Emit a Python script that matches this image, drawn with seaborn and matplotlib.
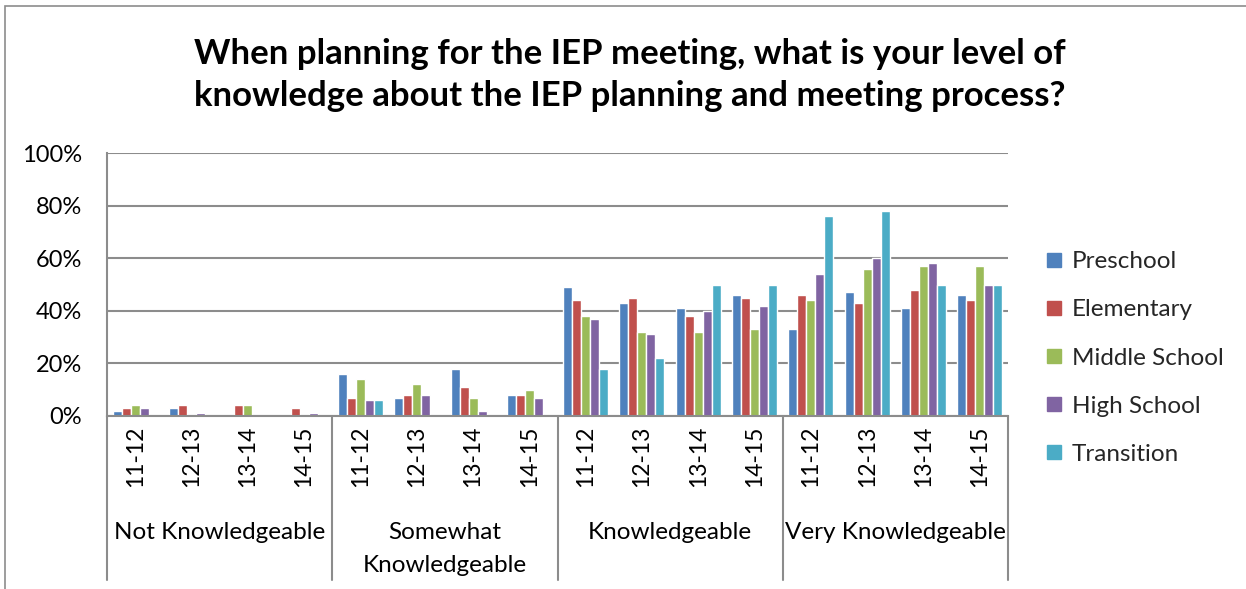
import numpy as np
import pandas as pd
import seaborn as sns
import matplotlib
matplotlib.use("Agg")
import matplotlib.pyplot as plt
from matplotlib.lines import Line2D
from matplotlib.patches import Rectangle
import matplotlib.transforms as mtransforms

# ---- data ----
levels = ["Not Knowledgeable", "Somewhat\nKnowledgeable", "Knowledgeable", "Very Knowledgeable"]
years = ["11-12", "12-13", "13-14", "14-15"]
series = ["Preschool", "Elementary", "Middle School", "High School", "Transition"]
preschool = [2, 3, 0, 0, 16, 7, 18, 8, 49, 43, 41, 46, 33, 47, 41, 46]
elementary = [3, 4, 4, 3, 7, 8, 11, 8, 44, 45, 38, 45, 46, 43, 48, 44]
middle_school = [4, 0, 4, 0, 14, 12, 7, 10, 38, 32, 32, 33, 44, 56, 57, 57]
high_school = [3, 1, 0, 1, 6, 8, 2, 7, 37, 31, 40, 42, 54, 60, 58, 50]
transition = [0, 0, 0, 0, 6, 0, 0, 0, 18, 22, 50, 50, 76, 78, 50, 50]
yticks = [0, 20, 40, 60, 80, 100]
title = "When planning for the IEP meeting, what is your level of\nknowledge about the IEP planning and meeting process?"

colors = ["#4F81BD", "#C0504D", "#9BBB59", "#8064A2", "#4BACC6"]
FONT = ["Lato", "DejaVu Sans"]

sns.set_theme(style="white")
plt.rcParams["font.family"] = FONT

slots = [f"{lv}|{yr}" for lv in levels for yr in years]
values = [preschool, elementary, middle_school, high_school, transition]
rows = []
for s, vals in zip(series, values):
    for slot, v in zip(slots, vals):
        rows.append({"slot": slot, "series": s, "value": v})
df = pd.DataFrame(rows)

W, H = 1246, 589
fig = plt.figure(figsize=(W / 100, H / 100), dpi=100)
ax = fig.add_axes([107 / W, 1 - 416 / H, (1008 - 107) / W, (416 - 153) / H])

sns.barplot(data=df, x="slot", y="value", hue="series", order=slots,
            hue_order=series, palette=colors, saturation=1, width=0.8,
            ax=ax, legend=False)

ax.set_xlim(-0.5, len(slots) - 0.5)
ax.set_ylim(0, 100)
ax.set_yticks(yticks)
ax.set_yticklabels([f"{t}%" for t in yticks], fontsize=17, color="black")
ax.tick_params(axis="y", length=0, pad=18)
ax.set_xticks([])
ax.set_xlabel("")
ax.set_ylabel("")
ax.yaxis.grid(True, color="#8c8c8c", lw=1.5)
ax.set_axisbelow(True)
for sp in ["top", "right"]:
    ax.spines[sp].set_visible(False)
for sp in ["left", "bottom"]:
    ax.spines[sp].set_color("#8c8c8c")
    ax.spines[sp].set_linewidth(1.5)

trans = mtransforms.blended_transform_factory(ax.transData, ax.transAxes)
ax_h = 416 - 153
for i, slot in enumerate(slots):
    yr = slot.split("|")[1]
    ax.text(i, (416 - 456) / ax_h, yr, transform=trans, rotation=90,
            ha="center", va="center", fontsize=16.5, color="black")
for g, lv in enumerate(levels):
    ax.text(g * 4 + 1.5, (416 - 522) / ax_h, lv, transform=trans, ha="center",
            va="top", fontsize=17.5, color="black", linespacing=1.7)
for b in range(len(levels) + 1):
    ax.add_line(Line2D([b * 4 - 0.5, b * 4 - 0.5], [0, (416 - 580) / ax_h],
                       transform=trans, color="#8c8c8c", lw=1.5, clip_on=False))

fig.text(630 / W, 1 - 75 / H, title, ha="center", va="center", fontsize=25,
         fontweight="bold", color="black", linespacing=1.42)

handles = [Line2D([], [], marker="s", linestyle="none", markersize=10.5,
                  markerfacecolor=c, markeredgecolor=c) for c in colors]
fig.legend(handles, series, loc="center left", bbox_to_anchor=(1044 / W, 1 - 358 / H),
           frameon=False, fontsize=17.5, labelspacing=1.12, handlelength=0.8,
           handletextpad=0.35, borderaxespad=0, borderpad=0)

fig.add_artist(Rectangle((5 / W, -0.1), 1.2, 1 - 6 / H + 0.1, transform=fig.transFigure,
                         fill=False, edgecolor="#8c8c8c", lw=1.2))

fig.savefig("out.png", dpi=100, facecolor="white")
